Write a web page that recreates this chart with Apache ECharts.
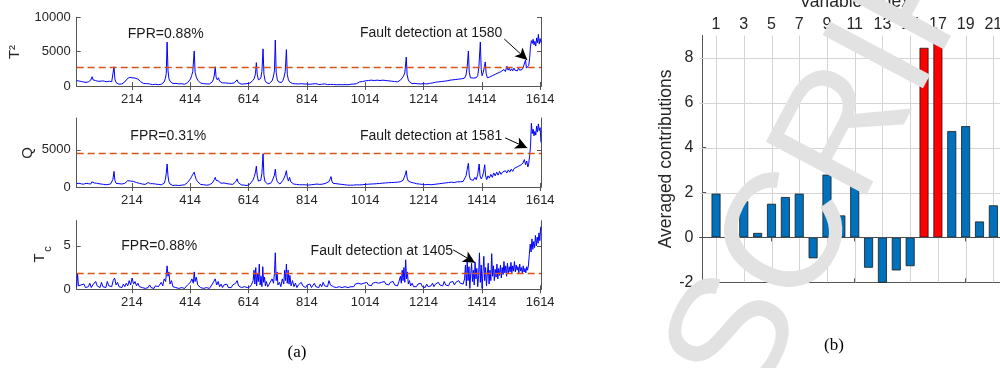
<!DOCTYPE html>
<html>
<head>
<meta charset="utf-8">
<script src="https://cdn.jsdelivr.net/npm/echarts@6.0.0/dist/echarts.min.js"></script>
<style>
  html, body { margin: 0; padding: 0; background: #fff; }
  #chart { width: 1000px; height: 368px; }
</style>
</head>
<body>
<div id="chart"></div>
<script>
// ---------------- DATA ----------------
const xTickValues = [214, 414, 614, 814, 1014, 1214, 1414, 1614];
const panelYTicks = [[0, 5000, 10000], [0, 5000], [0, 5]];
const t2Limit = 2800;
const qLimit = 4600;
const tcLimit = 1.85;

const t2Data = [[25,780],[29,600],[33,720],[37,520],[41,650],[45,430],[49,580],[53,380],[57,520],[61,420],[65,600],[69,480],[73,850],[76,1100],[78,1350],[81,900],[85,650],[89,800],[93,550],[97,700],[101,480],[105,680],[109,560],[113,750],[117,520],[121,680],[125,450],[129,620],[133,500],[137,700],[141,480],[145,620],[149,900],[153,2800],[156,1000],[160,500],[165,320],[170,260],[175,380],[180,300],[185,420],[190,600],[195,900],[200,1150],[205,1250],[210,1100],[215,1200],[220,1050],[225,1150],[230,950],[235,1000],[240,800],[245,600],[250,450],[255,350],[260,280],[265,350],[270,220],[275,300],[280,250],[285,200],[290,330],[295,250],[300,300],[305,200],[310,280],[315,250],[320,380],[325,600],[329,1100],[332,1800],[335,6400],[338,2300],[341,1100],[345,700],[350,450],[355,350],[360,280],[365,380],[370,250],[375,300],[380,200],[385,330],[390,280],[395,250],[400,350],[405,480],[410,700],[415,1000],[419,1500],[423,2100],[428,5100],[431,2000],[435,1300],[440,850],[445,600],[450,420],[455,520],[460,350],[465,480],[470,300],[475,430],[480,300],[485,420],[490,600],[494,1000],[497,1600],[500,2800],[503,1300],[507,900],[511,1200],[515,700],[520,600],[525,450],[530,350],[535,450],[540,300],[545,400],[550,280],[555,380],[560,300],[565,450],[570,650],[575,900],[579,500],[584,350],[589,280],[594,380],[599,300],[604,250],[609,350],[614,300],[619,420],[624,550],[629,800],[634,1100],[638,1800],[641,3400],[644,1700],[648,900],[652,700],[656,1100],[660,2100],[664,5400],[667,1700],[671,800],[675,500],[680,400],[685,350],[690,500],[695,750],[699,1300],[703,2200],[706,6700],[709,2000],[713,900],[717,600],[722,400],[727,500],[732,800],[736,1300],[740,2100],[744,5300],[747,1700],[751,900],[755,600],[760,450],[765,350],[770,480],[775,320],[780,420],[785,300],[790,400],[795,330],[800,420],[805,300],[810,400],[815,280],[820,350],[825,250],[830,380],[835,300],[840,250],[845,350],[850,280],[855,220],[860,300],[865,250],[870,200],[875,320],[880,260],[885,200],[890,280],[895,230],[900,300],[905,220],[910,260],[915,180],[920,240],[925,200],[930,260],[935,180],[940,230],[945,200],[950,250],[955,180],[960,220],[965,260],[970,200],[975,280],[980,250],[985,350],[990,450],[995,600],[1000,750],[1005,650],[1010,850],[1015,750],[1020,900],[1025,800],[1030,950],[1035,850],[1040,900],[1045,800],[1050,950],[1055,850],[1060,900],[1065,800],[1070,950],[1075,850],[1080,900],[1085,800],[1090,880],[1095,750],[1100,850],[1105,700],[1110,800],[1115,650],[1120,750],[1125,600],[1130,700],[1135,850],[1140,1100],[1145,1400],[1150,1900],[1155,4200],[1158,1600],[1162,900],[1166,600],[1170,450],[1175,350],[1180,300],[1185,380],[1190,250],[1195,320],[1200,220],[1205,300],[1210,250],[1215,350],[1220,230],[1225,300],[1230,250],[1235,380],[1240,300],[1245,450],[1250,400],[1255,550],[1260,450],[1265,600],[1270,500],[1275,650],[1280,550],[1285,700],[1290,600],[1295,750],[1300,650],[1305,850],[1310,700],[1315,900],[1320,800],[1325,950],[1330,850],[1335,1000],[1340,900],[1345,1050],[1350,950],[1355,1150],[1360,1600],[1364,2800],[1368,5100],[1371,2000],[1375,1200],[1380,1000],[1385,1150],[1390,950],[1395,1200],[1400,1500],[1404,2800],[1409,6400],[1412,2400],[1415,1500],[1419,2000],[1423,2800],[1426,3500],[1429,1800],[1433,1200],[1437,1000],[1441,1300],[1445,1100],[1450,1500],[1455,1300],[1460,1700],[1465,1500],[1470,1900],[1475,1700],[1480,2100],[1485,1900],[1490,2400],[1495,2100],[1500,2900],[1504,2300],[1508,2600],[1512,2200],[1516,2500],[1520,2200],[1524,2600],[1528,2300],[1532,2500],[1536,2200],[1540,2600],[1544,2300],[1548,2500],[1552,2400],[1556,2700],[1560,2500],[1564,3800],[1567,2600],[1571,2400],[1575,3000],[1578,4000],[1581,5800],[1584,6600],[1587,6200],[1590,6800],[1593,6000],[1596,6500],[1599,5800],[1602,7000],[1605,6300],[1608,7500],[1611,6100],[1614,6900],[1617,6300]];

const qData = [[25,450],[29,300],[33,500],[37,350],[41,420],[45,250],[49,380],[53,300],[57,500],[61,350],[65,450],[69,600],[73,400],[77,700],[81,450],[85,550],[89,350],[93,500],[97,300],[101,450],[105,600],[109,400],[113,550],[117,350],[121,500],[125,300],[129,450],[133,350],[137,500],[141,400],[145,600],[149,1000],[153,2100],[156,900],[160,500],[165,350],[170,450],[175,300],[180,400],[185,350],[190,500],[195,700],[200,850],[205,950],[210,800],[215,900],[220,750],[225,850],[230,600],[235,700],[240,500],[245,600],[250,400],[255,550],[260,350],[265,500],[270,600],[274,750],[278,450],[282,350],[286,450],[290,300],[295,400],[300,250],[305,350],[310,200],[315,300],[320,250],[325,500],[329,1000],[332,1800],[335,3100],[338,1500],[341,700],[345,400],[350,300],[355,200],[360,350],[365,250],[370,300],[375,200],[380,300],[385,250],[390,350],[395,300],[400,450],[405,600],[410,800],[415,1100],[419,1400],[423,1700],[428,2000],[431,1500],[435,1000],[440,700],[445,500],[450,350],[455,450],[460,300],[465,400],[470,250],[475,350],[480,300],[485,400],[490,550],[494,800],[497,1000],[500,1300],[503,900],[507,700],[511,800],[515,550],[520,500],[525,400],[530,550],[535,350],[540,450],[545,300],[550,400],[555,300],[560,350],[565,500],[570,700],[575,1100],[579,600],[584,400],[589,300],[594,350],[599,250],[604,300],[609,200],[614,300],[619,400],[624,550],[629,900],[634,1400],[638,2000],[641,2800],[644,1500],[648,800],[652,600],[656,900],[660,1800],[664,4500],[667,1500],[671,700],[675,500],[680,400],[685,350],[690,500],[695,800],[699,1200],[703,1600],[706,2400],[709,1300],[713,700],[717,500],[722,400],[727,600],[732,900],[736,1200],[740,1600],[744,2200],[747,1300],[751,800],[755,1300],[759,700],[764,500],[769,400],[774,550],[779,350],[784,450],[789,300],[794,400],[799,300],[804,450],[809,300],[814,400],[819,250],[824,350],[829,300],[834,250],[839,350],[844,300],[849,400],[854,250],[859,350],[864,300],[869,400],[874,350],[879,500],[884,400],[889,700],[893,1000],[897,1400],[900,800],[904,500],[909,400],[914,450],[919,350],[924,400],[929,300],[934,350],[939,250],[944,300],[949,200],[954,250],[959,200],[964,250],[969,150],[974,250],[979,200],[984,300],[989,200],[994,280],[999,220],[1004,300],[1009,250],[1014,350],[1019,280],[1024,380],[1029,300],[1034,400],[1039,320],[1044,420],[1049,350],[1054,450],[1059,380],[1064,480],[1069,400],[1074,520],[1079,420],[1084,550],[1089,450],[1094,580],[1099,480],[1104,600],[1109,500],[1114,620],[1119,520],[1124,650],[1129,550],[1134,700],[1139,650],[1144,900],[1148,1300],[1152,1700],[1155,2200],[1158,1200],[1162,800],[1166,900],[1170,650],[1175,750],[1180,550],[1185,650],[1190,450],[1195,550],[1200,400],[1205,500],[1210,350],[1215,450],[1220,300],[1225,400],[1230,350],[1235,450],[1240,300],[1245,400],[1250,350],[1255,500],[1260,400],[1265,550],[1270,450],[1275,650],[1280,500],[1285,700],[1290,550],[1295,750],[1300,600],[1305,800],[1310,650],[1315,750],[1320,600],[1325,800],[1330,700],[1335,850],[1340,700],[1345,900],[1350,750],[1355,1000],[1360,1500],[1364,2400],[1368,3200],[1371,1600],[1375,1000],[1380,1200],[1385,900],[1390,1300],[1395,1000],[1400,1700],[1405,3100],[1408,1500],[1412,1100],[1416,1400],[1420,2000],[1424,3000],[1427,1500],[1431,1000],[1435,1500],[1440,1200],[1445,1700],[1450,1300],[1455,1900],[1460,1500],[1465,2000],[1470,1600],[1475,2100],[1480,1700],[1485,2000],[1490,1800],[1495,2200],[1500,1900],[1505,2300],[1510,2000],[1515,2400],[1520,2100],[1525,2500],[1530,2300],[1535,2700],[1540,2500],[1545,2900],[1550,2700],[1555,3200],[1560,3700],[1564,3000],[1568,3500],[1572,2700],[1575,3200],[1578,4200],[1581,5500],[1584,8600],[1587,7200],[1590,7800],[1593,6900],[1596,7500],[1599,7000],[1602,8200],[1605,7400],[1608,8500],[1611,7600],[1614,8000],[1617,6000]];

const tcData = [[25,0.3],[28,1.8],[31,0.4],[35,0.2],[40,0.5],[45,0.3],[50,0.6],[55,0.2],[60,0.4],[65,0.3],[70,0.7],[75,0.2],[80,0.5],[85,0.3],[90,0.9],[95,0.4],[100,0.6],[105,0.2],[110,0.8],[115,0.3],[120,0.5],[125,0.2],[130,0.9],[135,0.4],[140,0.6],[145,0.3],[150,1.0],[155,1.3],[160,0.5],[165,0.8],[170,0.3],[175,0.5],[180,0.2],[185,0.6],[190,0.3],[195,0.7],[200,0.4],[205,1.0],[210,0.5],[215,1.3],[220,0.6],[225,0.9],[230,0.4],[235,0.7],[240,0.3],[245,0.5],[250,0.2],[255,0.4],[260,0.1],[265,0.3],[270,0.2],[275,0.5],[280,0.2],[285,0.3],[290,0.1],[295,0.4],[300,0.2],[305,0.3],[310,0.5],[315,0.8],[320,0.4],[325,1.2],[330,0.9],[335,2.7],[338,1.5],[341,2.0],[345,0.6],[350,1.0],[355,0.3],[360,0.5],[365,0.2],[370,0.4],[375,0.1],[380,0.3],[385,0.2],[390,0.4],[395,0.1],[400,0.3],[405,0.5],[410,0.3],[415,0.8],[420,1.2],[425,0.7],[428,2.0],[431,0.9],[435,1.4],[440,0.5],[445,0.7],[450,0.2],[455,0.4],[460,0.1],[465,0.3],[470,0.2],[475,0.4],[480,0.1],[485,0.3],[490,0.6],[495,0.4],[500,1.2],[505,0.5],[510,0.9],[515,0.3],[520,0.6],[525,0.2],[530,0.5],[535,0.3],[540,0.6],[545,0.2],[550,0.4],[555,0.2],[560,0.5],[565,0.3],[570,0.7],[575,1.0],[580,0.4],[585,0.6],[590,0.2],[595,0.4],[600,0.3],[605,0.5],[610,0.2],[615,0.4],[620,0.3],[625,0.6],[630,1.0],[633,2.2],[636,0.6],[639,2.5],[642,0.4],[645,1.8],[648,0.9],[651,2.9],[654,0.5],[657,1.5],[660,0.3],[663,2.6],[666,0.8],[669,1.4],[672,0.4],[675,0.9],[680,0.3],[685,0.6],[690,0.4],[695,1.2],[700,0.7],[703,1.8],[706,4.2],[709,1.0],[712,2.0],[715,0.5],[720,0.8],[725,0.3],[730,1.2],[735,0.6],[738,2.2],[741,1.0],[744,2.9],[747,0.7],[750,2.2],[753,0.6],[756,1.6],[760,0.4],[765,1.0],[770,0.3],[775,0.7],[780,0.2],[785,0.5],[790,0.3],[795,0.8],[800,0.4],[805,0.6],[810,0.2],[815,0.5],[820,0.3],[825,0.6],[830,0.2],[835,0.4],[840,0.7],[845,0.3],[850,0.5],[855,0.2],[860,0.6],[865,0.3],[870,0.8],[875,0.4],[880,0.6],[885,0.3],[890,1.0],[895,0.5],[900,0.7],[905,0.3],[910,0.5],[915,0.2],[920,0.4],[925,0.3],[930,0.5],[935,0.2],[940,0.4],[945,0.3],[950,0.5],[955,0.2],[960,0.4],[965,0.3],[970,0.5],[975,0.3],[980,0.6],[985,0.4],[990,0.7],[995,0.5],[1000,0.6],[1005,0.4],[1010,0.7],[1015,0.5],[1020,0.8],[1025,0.5],[1030,0.6],[1035,0.4],[1040,0.7],[1045,0.5],[1050,0.8],[1055,0.6],[1060,0.7],[1065,0.5],[1070,0.8],[1075,0.6],[1080,0.9],[1085,0.6],[1090,0.7],[1095,0.5],[1100,0.8],[1105,0.6],[1110,0.9],[1115,0.5],[1120,0.7],[1125,0.4],[1130,0.9],[1135,1.5],[1138,0.7],[1141,2.2],[1144,1.0],[1147,2.5],[1150,0.8],[1153,3.4],[1156,1.2],[1159,2.0],[1162,0.6],[1166,1.0],[1170,0.4],[1175,0.7],[1180,0.3],[1185,0.5],[1190,0.3],[1195,0.6],[1200,0.4],[1205,0.7],[1210,0.3],[1215,0.5],[1220,0.2],[1225,0.6],[1230,0.3],[1235,0.5],[1240,0.4],[1245,0.7],[1250,0.3],[1255,0.6],[1260,0.4],[1265,0.8],[1270,0.5],[1275,0.7],[1280,0.4],[1285,0.9],[1290,0.5],[1295,0.7],[1300,0.4],[1305,0.8],[1310,0.6],[1315,0.9],[1320,0.5],[1325,0.8],[1330,0.6],[1335,1.0],[1340,0.7],[1345,0.9],[1350,0.6],[1355,1.2],[1358,2.8],[1361,0.4],[1364,3.3],[1367,1.0],[1370,2.6],[1373,0.1],[1376,1.8],[1379,3.0],[1382,0.9],[1385,2.2],[1388,0.5],[1391,3.1],[1394,1.2],[1397,2.4],[1400,0.3],[1403,1.6],[1406,4.2],[1409,0.8],[1412,2.8],[1415,0.1],[1418,2.0],[1421,3.8],[1424,1.0],[1427,2.5],[1430,0.4],[1433,1.8],[1436,3.0],[1439,0.6],[1442,2.2],[1445,1.0],[1448,4.1],[1451,1.5],[1454,2.7],[1457,1.0],[1460,2.3],[1463,1.4],[1466,2.9],[1469,1.2],[1472,2.4],[1475,1.6],[1478,2.8],[1481,1.3],[1484,2.5],[1487,1.7],[1490,3.2],[1493,1.9],[1496,2.7],[1499,1.5],[1502,3.0],[1505,1.8],[1508,2.6],[1511,2.0],[1514,3.1],[1517,1.9],[1520,2.7],[1523,2.1],[1526,3.2],[1529,2.0],[1532,2.8],[1535,2.2],[1538,2.6],[1541,1.9],[1544,2.9],[1547,2.1],[1550,2.5],[1553,1.8],[1556,2.7],[1559,2.0],[1562,2.4],[1565,1.9],[1568,2.6],[1571,2.2],[1574,2.8],[1577,4.0],[1580,5.2],[1583,4.3],[1586,5.8],[1589,4.6],[1592,5.5],[1595,4.8],[1598,6.2],[1601,5.0],[1604,6.0],[1607,5.3],[1610,6.5],[1613,5.6],[1616,7.2]];

const fprTexts = ['FPR=0.88%', 'FPR=0.31%', 'FPR=0.88%'];
const faultTexts = ['Fault detection at 1580', 'Fault detection at 1581', 'Fault detection at 1405'];

const varTickValues = [1, 3, 5, 7, 9, 11, 13, 15, 17, 19, 21];
const contribTickValues = [-2, 0, 2, 4, 6, 8];
const varIndex = [1, 2, 3, 4, 5, 6, 7, 8, 9, 10, 11, 12, 13, 14, 15, 16, 17, 18, 19, 20, 21];
const contributions = [1.95, 0.50, 1.62, 0.20, 1.50, 1.80, 1.95, -0.93, 2.80, 0.98, 2.74, -1.35, -2.15, -1.47, -1.28, 8.45, 9.5, 4.74, 4.96, 0.71, 1.43];
const faultyVars = [16, 17];

// ---------------- CHART ----------------
const FONT = '"Liberation Sans", Arial, sans-serif';
const SERIF = '"Liberation Serif", "Times New Roman", serif';
const AX = '#555555';
const TXT = '#262626';
const GRIDC = '#d4d4d4';
const plain = (v) => String(v);

const chart = echarts.init(document.getElementById('chart'), null, { renderer: 'canvas' });

const grids = [
  { left: 76.7, top: 17.3, width: 464.3, height: 68.7, outerBoundsMode: 'none', containLabel: false },
  { left: 76.7, top: 118, width: 464.3, height: 69, outerBoundsMode: 'none', containLabel: false },
  { left: 76.7, top: 220.7, width: 464.3, height: 68.6, outerBoundsMode: 'none', containLabel: false },
  { left: 699.4, top: 35.5, width: 310.6, height: 246.8, outerBoundsMode: 'none', containLabel: false }
];
const panelYMax = [10000, 9300, 7.9];
const panelSeries = [t2Data, qData, tcData];
const panelLimits = [t2Limit, qLimit, tcLimit];

const xAxes = [], yAxes = [], series = [];
const axLine = { show: true, lineStyle: { color: AX, width: 1 } };

for (let i = 0; i < 3; i++) {
  xAxes.push({
    gridIndex: i, type: 'value', min: 25, max: 1617, position: 'bottom',
    axisLine: axLine,
    axisTick: { show: true, inside: true, length: 4, customValues: xTickValues, lineStyle: { color: AX } },
    axisLabel: { show: true, customValues: xTickValues, formatter: plain, fontSize: 13, color: TXT, margin: 7, fontFamily: FONT },
    splitLine: { show: false }
  });
  yAxes.push({
    gridIndex: i, type: 'value', min: 0, max: panelYMax[i], position: 'left',
    axisLine: axLine,
    axisTick: { show: true, inside: true, length: 4, customValues: panelYTicks[i], lineStyle: { color: AX } },
    axisLabel: { show: true, customValues: panelYTicks[i], formatter: plain, fontSize: 13, color: TXT, margin: 6, fontFamily: FONT },
    splitLine: { show: false }
  });
}
for (let i = 0; i < 3; i++) {
  xAxes.push({
    gridIndex: i, type: 'value', min: 25, max: 1617, position: 'top',
    axisLine: axLine,
    axisTick: { show: true, inside: true, length: 4, customValues: xTickValues, lineStyle: { color: AX } },
    axisLabel: { show: false }, splitLine: { show: false }
  });
  yAxes.push({
    gridIndex: i, type: 'value', min: 0, max: panelYMax[i], position: 'right',
    axisLine: axLine,
    axisTick: { show: true, inside: true, length: 4, customValues: panelYTicks[i], lineStyle: { color: AX } },
    axisLabel: { show: false }, splitLine: { show: false }
  });
}
// panel (b)
xAxes.push({
  gridIndex: 3, type: 'value', min: -0.2, max: 22.2, position: 'top',
  axisLine: axLine,
  axisTick: { show: true, inside: true, length: 4, customValues: varTickValues, lineStyle: { color: AX } },
  axisLabel: { show: true, customValues: varTickValues, formatter: plain, fontSize: 16, color: TXT, margin: 3, fontFamily: FONT },
  splitLine: { show: false },
  name: 'Variable Index', nameLocation: 'middle', nameGap: 21,
  nameTextStyle: { fontSize: 17.5, color: TXT, fontFamily: FONT }
});
xAxes.push({
  gridIndex: 3, type: 'value', min: -0.2, max: 22.2, position: 'bottom',
  axisLine: axLine,
  axisTick: { show: true, inside: true, length: 4, customValues: varTickValues, lineStyle: { color: AX } },
  axisLabel: { show: false }, splitLine: { show: false }
});
yAxes.push({
  gridIndex: 3, type: 'value', min: -2, max: 9, position: 'left',
  axisLine: axLine,
  axisTick: { show: true, inside: true, length: 4, customValues: contribTickValues, lineStyle: { color: AX } },
  axisLabel: { show: true, customValues: contribTickValues, formatter: plain, fontSize: 16, color: TXT, margin: 6, fontFamily: FONT },
  splitLine: { show: false },
  name: 'Averaged contributions', nameLocation: 'middle', nameGap: 20, nameRotate: 90,
  nameTextStyle: { fontSize: 17.5, color: TXT, fontFamily: FONT }
});

const arrowFrom = [[1491, 6840], [1494, 6620], [1316, 4.54]];
const arrowTo = [[1570, 3785], [1570, 5270], [1391, 3.07]];

for (let i = 0; i < 3; i++) {
  series.push({
    type: 'line', xAxisIndex: i, yAxisIndex: i,
    data: panelSeries[i], showSymbol: false, symbol: 'none',
    lineStyle: { color: '#0000FF', width: 1 }, z: 2,
    markLine: {
      silent: true, symbol: 'none', animation: false,
      label: { show: false },
      data: [
        { yAxis: panelLimits[i], lineStyle: { color: '#D95319', width: 1.3, type: [7, 4], opacity: 1 } },
        [
          { coord: arrowFrom[i], symbol: 'none', lineStyle: { color: '#000', width: 1, type: 'solid', opacity: 1 } },
          { coord: arrowTo[i], symbol: 'arrow', symbolSize: [9, 12] }
        ]
      ]
    }
  });
}

// grid lines of panel (b): drawn through the axes' own scales, below the bars
series.push({
  type: 'custom', xAxisIndex: 6, yAxisIndex: 6, silent: true, z: 1, clip: false,
  data: varTickValues.map(v => [v, 0]),
  encode: { x: 0, y: 1 },
  renderItem: (params, api) => {
    const cs = params.coordSys;
    const px = Math.round(api.coord([api.value(0), 0])[0]) + 0.5;
    return { type: 'line', shape: { x1: px, y1: cs.y, x2: px, y2: cs.y + cs.height },
      style: { stroke: GRIDC, lineWidth: 1 } };
  }
});
series.push({
  type: 'custom', xAxisIndex: 6, yAxisIndex: 6, silent: true, z: 1, clip: false,
  data: contribTickValues.filter(v => v > -2).map(v => [1, v]),
  encode: { x: 0, y: 1 },
  renderItem: (params, api) => {
    const cs = params.coordSys;
    const py = Math.round(api.coord([1, api.value(1)])[1]) + 0.5;
    return { type: 'line', shape: { x1: cs.x, y1: py, x2: cs.x + cs.width, y2: py },
      style: { stroke: GRIDC, lineWidth: 1 } };
  }
});

series.push({
  type: 'bar', xAxisIndex: 6, yAxisIndex: 6, barWidth: 9, clip: true,
  data: varIndex.map((v, k) => ({
    value: [v, contributions[k]],
    itemStyle: { color: faultyVars.includes(v) ? '#FF0000' : '#0072BD' }
  })),
  itemStyle: { borderColor: '#1a1a1a', borderWidth: 0.8 },
  markLine: {
    silent: true, symbol: 'none', label: { show: false },
    data: [{ yAxis: 0 }],
    lineStyle: { color: '#4d4d4d', width: 1, type: 'solid', opacity: 1 }
  },
  z: 2
});

chart.setOption({
  animation: false,
  backgroundColor: '#ffffff',
  textStyle: { fontFamily: FONT },
  grid: grids,
  xAxis: xAxes,
  yAxis: yAxes,
  series: series
});

// ---------- annotations placed from data coordinates ----------
const fprPos = [[200, 7550], [209, 6800], [178, 5.0]];
const faultPos = [[996, 7700], [996, 6900], [827, 4.4]];
const graphics = [];
for (let i = 0; i < 3; i++) {
  const p1 = chart.convertToPixel({ seriesIndex: i }, fprPos[i]);
  const p2 = chart.convertToPixel({ seriesIndex: i }, faultPos[i]);
  graphics.push({ type: 'text', x: p1[0], y: p1[1], z: 50,
    style: { text: fprTexts[i], font: '14px ' + FONT, fill: '#1a1a1a', textAlign: 'left', textVerticalAlign: 'middle' } });
  graphics.push({ type: 'text', x: p2[0], y: p2[1], z: 50,
    style: { text: faultTexts[i], font: '14px ' + FONT, fill: '#1a1a1a', textAlign: 'left', textVerticalAlign: 'middle' } });
}
graphics.push({ type: 'text', x: 15, y: 52, rotation: Math.PI / 2, z: 50,
  style: { text: 'T\u00B2', font: '15px ' + FONT, fill: TXT, textAlign: 'center', textVerticalAlign: 'middle' } });
graphics.push({ type: 'text', x: 28, y: 153, rotation: Math.PI / 2, z: 50,
  style: { text: 'Q', font: '15px ' + FONT, fill: TXT, textAlign: 'center', textVerticalAlign: 'middle' } });
graphics.push({ type: 'group', x: 40, y: 258, rotation: Math.PI / 2, z: 50, children: [
  { type: 'text', x: 0, y: 0, style: { text: 'T', font: '15px ' + FONT, fill: TXT, textAlign: 'center', textVerticalAlign: 'middle' } },
  { type: 'text', x: 9, y: 8, style: { text: 'c', font: '11px ' + FONT, fill: TXT, textAlign: 'center', textVerticalAlign: 'middle' } }
] });
graphics.push({ type: 'text', x: 297, y: 353, z: 50,
  style: { text: '(a)', font: '17px ' + SERIF, fill: '#000', textAlign: 'center', textVerticalAlign: 'middle' } });
graphics.push({ type: 'text', x: 834, y: 346, z: 50,
  style: { text: '(b)', font: '17px ' + SERIF, fill: '#000', textAlign: 'center', textVerticalAlign: 'middle' } });
// watermark
graphics.push({ type: 'text', x: 712, y: 388, rotation: 62 * Math.PI / 180, z: 100, silent: true,
  style: { text: 'SCRIPT', font: '165px ' + FONT, fill: '#e2e2e2', textAlign: 'left', textVerticalAlign: 'middle' } });

chart.setOption({ graphic: graphics });
</script>
</body>
</html>
